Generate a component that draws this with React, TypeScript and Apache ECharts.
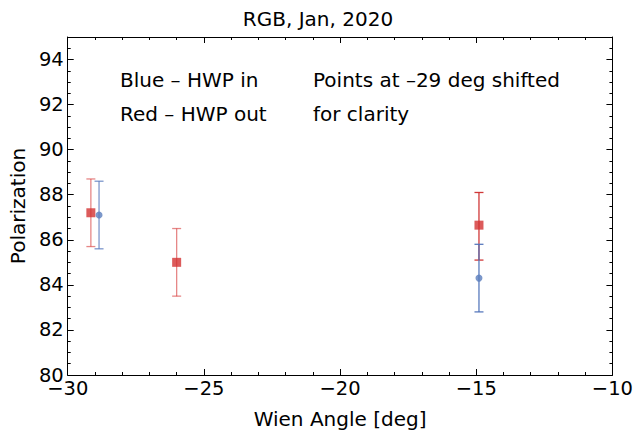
import React, { useEffect, useRef } from "react";
import * as echarts from "echarts";

const redX = [-29.15, -26.0, -14.9];
const redY = [87.2, 85.0, 86.65];
const redLo = [85.7, 83.5, 85.1];
const redHi = [88.7, 86.5, 88.1];

const blueX = [-28.85, -14.9];
const blueY = [87.1, 84.3];
const blueLo = [85.6, 82.8];
const blueHi = [88.6, 85.8];

const RED = "#d33232";
const RED_BARS = ["rgba(214,55,55,0.6)", "rgba(214,55,55,0.6)", "rgba(205,45,45,0.95)"];
const BLUE = "#5a7dbd";
const BLUE_BARS = ["rgba(80,115,185,0.75)", "rgba(80,115,185,0.95)"];
const FONT = "DejaVu Sans";
const FS = 20;
const FS_TICK = 19.5;

function errSeries(xs: number[], lo: number[], hi: number[], colors: string[]) {
  return {
    type: "custom",
    xAxisIndex: 0,
    yAxisIndex: 0,
    data: xs.map((x, i) => [x, lo[i], hi[i]]),
    encode: { x: 0, y: [1, 2] },
    renderItem: (params: any, api: any) => {
      const x = api.value(0);
      const p1 = api.coord([x, api.value(1)]);
      const p2 = api.coord([x, api.value(2)]);
      const cap = 4.5;
      const st = { stroke: colors[params.dataIndex], lineWidth: 1.3 };
      return {
        type: "group",
        children: [
          { type: "line", shape: { x1: p1[0], y1: p1[1], x2: p2[0], y2: p2[1] }, style: st },
          { type: "line", shape: { x1: p1[0] - cap, y1: p1[1], x2: p1[0] + cap, y2: p1[1] }, style: st },
          { type: "line", shape: { x1: p2[0] - cap, y1: p2[1], x2: p2[0] + cap, y2: p2[1] }, style: st },
        ],
      };
    },
    z: 2,
  };
}

export default function App() {
  const ref = useRef<HTMLDivElement>(null);
  useEffect(() => {
    const chart = echarts.init(ref.current!, null, { renderer: "svg" });
    const axisCommon = {
      axisLine: { show: true, onZero: false, lineStyle: { color: "#000", width: 1 } },
      splitLine: { show: false },
    };
    const tick = { show: true, inside: true, length: 6, lineStyle: { color: "#000" } };
    chart.setOption({
      animation: false,
      backgroundColor: "#fff",
      textStyle: { fontFamily: FONT },
      title: {
        text: "RGB, Jan, 2020",
        left: "center",
        top: 4,
        textStyle: { fontFamily: FONT, fontSize: FS, fontWeight: "normal", color: "#000" },
      },
      grid: { left: 64, right: 20, top: 37, bottom: 57 },
      xAxis: [
        {
          ...axisCommon,
          type: "value",
          min: -30,
          max: -10,
          interval: 5,
          position: "bottom",
          name: "Wien Angle [deg]",
          nameLocation: "middle",
          nameGap: 34,
          nameTextStyle: { fontFamily: FONT, fontSize: FS, color: "#000" },
          axisTick: tick,
          minorTick: { show: true, splitNumber: 5, length: 3, lineStyle: { color: "#000" } },
          axisLabel: {
            fontFamily: FONT,
            fontSize: FS_TICK,
            color: "#000",
            margin: 3,
            formatter: (v: number) => String(v).replace("-", "\u2212"),
          },
        },
        {
          ...axisCommon,
          type: "value",
          min: -30,
          max: -10,
          interval: 5,
          position: "top",
          axisTick: tick,
          minorTick: { show: true, splitNumber: 5, length: 3, lineStyle: { color: "#000" } },
          axisLabel: { show: false },
        },
      ],
      yAxis: [
        {
          ...axisCommon,
          type: "value",
          min: 80,
          max: 95,
          interval: 2,
          position: "left",
          name: "Polarization",
          nameLocation: "middle",
          nameGap: 38,
          nameTextStyle: { fontFamily: FONT, fontSize: FS, color: "#000" },
          axisTick: tick,
          minorTick: { show: true, splitNumber: 4, length: 3, lineStyle: { color: "#000" } },
          axisLabel: {
            fontFamily: FONT,
            fontSize: FS_TICK,
            color: "#000",
            margin: 4,
            showMaxLabel: false,
          },
        },
        {
          ...axisCommon,
          type: "value",
          min: 80,
          max: 95,
          interval: 2,
          position: "right",
          axisTick: tick,
          minorTick: { show: true, splitNumber: 4, length: 3, lineStyle: { color: "#000" } },
          axisLabel: { show: false },
        },
      ],
      graphic: [
        { type: "text", left: 120, top: 70, style: { text: "Blue \u2013 HWP in", font: `${FS}px "${FONT}"`, fill: "#000" } },
        { type: "text", left: 120, top: 104, style: { text: "Red \u2013 HWP out", font: `${FS}px "${FONT}"`, fill: "#000" } },
        { type: "text", left: 313, top: 70, style: { text: "Points at \u201329 deg shifted", font: `${FS}px "${FONT}"`, fill: "#000" } },
        { type: "text", left: 313, top: 104, style: { text: "for clarity", font: `${FS}px "${FONT}"`, fill: "#000" } },
      ],
      series: [
        errSeries(redX, redLo, redHi, RED_BARS),
        errSeries(blueX, blueLo, blueHi, BLUE_BARS),
        {
          type: "scatter",
          data: redX.map((x, i) => [x, redY[i]]),
          symbol: "rect",
          symbolSize: 9,
          itemStyle: { color: RED },
          z: 3,
        },
        {
          type: "scatter",
          data: blueX.map((x, i) => [x, blueY[i]]),
          symbol: "circle",
          symbolSize: 7,
          itemStyle: { color: BLUE },
          z: 3,
        },
      ],
    });
    return () => chart.dispose();
  }, []);
  return <div ref={ref} style={{ width: 636, height: 434, position: "absolute", left: 0, top: 0 }} />;
}
